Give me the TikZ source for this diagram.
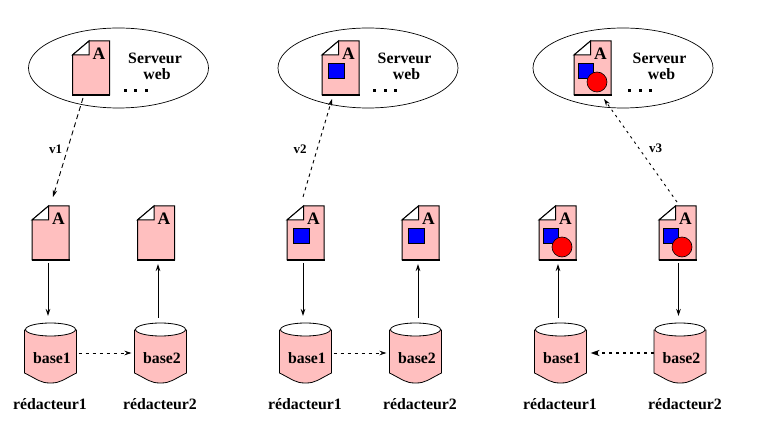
\documentclass[tikz,border=0pt]{standalone}
\usepackage{fontspec}
\setmainfont{Liberation Serif}[BoldFont={Liberation Serif Bold}]
\usetikzlibrary{arrows.meta,calc,shapes.geometric}
\definecolor{docpink}{HTML}{FFBFBF}
\tikzset{
  x=1pt,y=-1pt,
  anchorbox/.style={inner sep=0pt,outer sep=0pt,minimum width=#1},
  docbox/.style={anchorbox=37pt,minimum height=54pt},
  cylbox/.style={anchorbox=52pt,minimum height=60pt},
  docedge/.style={draw=black,line width=1pt,fill=docpink,line join=miter},
  docletter/.style={inner sep=0pt,font=\bfseries\fontsize{17.5}{17.5}\selectfont},
  cyledge/.style={draw=black,line width=.8pt,fill=docpink},
  caption/.style={inner sep=0pt,font=\bfseries\fontsize{15.8}{16}\selectfont},
  version/.style={inner sep=0pt,font=\bfseries\fontsize{13}{13}\selectfont},
  srv/.style={draw=black,line width=.7pt,fill=white,ellipse,minimum width=180pt,minimum height=80pt,inner sep=0pt,outer sep=0pt},
  link/.style={line width=.9pt,-{Stealth[length=7pt,width=4.5pt]}},
  sq/.style={draw=black,line width=.6pt,fill=blue,minimum size=15.5pt,inner sep=0pt,outer sep=0pt},
  disc/.style={circle,draw=black,line width=.6pt,fill=red,minimum size=20pt,inner sep=0pt,outer sep=0pt},
  longdash/.style={dash pattern=on 5pt off 3.5pt},
  shortdash/.style={dash pattern=on 3.5pt off 3.5pt},
  dotdash/.style={dash pattern=on 2.5pt off 4pt}
}
% Page with a folded corner; #1 name, #2 left edge, #3 top edge
\newcommand{\docpage}[3]{%
  \node[docbox] (#1) at (#2+18.5,#3+27) {};
  \path[docedge] (#2,#3+14) -- (#2+16.5,#3) -- (#2+37,#3) -- (#2+37,#3+54) -- (#2,#3+54) -- cycle;
  \draw[line width=2pt] (#2-.5,#3+53.6) -- (#2+37.5,#3+53.6);
  \path[docedge,fill=white] (#2,#3+14) -- (#2+16.5,#3) -- (#2+16.5,#3+14) -- cycle;
  \node[docletter] (#1-A) at (#2+26.5,#3+12.5) {A};
}
% Blue square on a page
\newcommand{\squareon}[3]{\node[sq] (#1-sq) at (#2+14.5,#3+30) {};}
% Blue square and red disc on a page
\newcommand{\bothon}[3]{%
  \node[sq] (#1-sq) at (#2+12,#3+30) {};
  \node[disc] (#1-disc) at (#2+23,#3+41) {};
}
% Cylinder; #1 name, #2 left edge, #3 caption text
\newcommand{\dbase}[3]{%
  \node[cylbox] (#1) at (#2+26,353) {};
  \path[cyledge] (#2,330) -- (#2,373) .. controls (#2+14,380) and (#2+16,383) .. (#2+26,383)
     .. controls (#2+36,383) and (#2+38,380) .. (#2+52,373) -- (#2+52,330) -- cycle;
  \path[draw=black,line width=.8pt,fill=white] (#2+26,329.5) ellipse [x radius=25pt,y radius=6.5pt];
  \node[caption] (#1-label) at (#2+27.5,358) {#3};
}
% Server ellipse with its caption and dots; #1 name, #2 centre x
\newcommand{\webserver}[2]{%
  \node[srv] (#1) at (#2,68) {};
  \node[caption] (#1-line1) at (#2+36.5,58) {Serveur};
  \node[caption] (#1-line2) at (#2+38.5,74) {web};
  \node[inner sep=0pt] (#1-dots) at (#2+17,91) {\tikz[x=1pt,y=-1pt]{\foreach \k in {0,10.5,21}\fill (\k,0) rectangle +(3,3);}};
}
\begin{document}
\begin{tikzpicture}
\useasboundingbox (0,0) rectangle (777,422);
\fill[white] (0,0) rectangle (777,422);

% First stage
\webserver{srvA}{118.5}
\docpage{webA}{72.5}{41}
\docpage{pageAa}{32}{206}
\docpage{pageAb}{137.5}{206}
\dbase{baseAa}{24.5}{base1}
\dbase{baseAb}{134.5}{base2}
\node[caption] (redAa) at (50,404) {rédacteur1};
\node[caption] (redAb) at (160,404) {rédacteur2};
\node[version] (vA) at (55.5,149) {v1};
\draw[link,longdash] ($(webA.south west)+(10.5,3)$) -- ($(pageAa.north west)+(21,-9)$);
\draw[link] ($(pageAa.south west)+(16,3)$) -- ($(baseAa.north west)+(23.5,-7)$);
\draw[link] ($(baseAb.north west)+(23.5,-5)$) -- ($(pageAb.south west)+(20.5,4)$);
\draw[link,shortdash,line width=.7pt] ($(baseAa.east)+(2,0)$) -- ($(baseAb.west)+(-3,0)$);

% Second stage
\webserver{srvB}{368}
\docpage{webB}{322}{41}
\squareon{webB}{322}{41}
\docpage{pageBa}{287}{206}
\squareon{pageBa}{287}{206}
\docpage{pageBb}{402}{206}
\squareon{pageBb}{402}{206}
\dbase{baseBa}{279.5}{base1}
\dbase{baseBb}{389.5}{base2}
\node[caption] (redBa) at (305,404) {rédacteur1};
\node[caption] (redBb) at (420,404) {rédacteur2};
\node[version] (vB) at (300,149) {v2};
\draw[link,shortdash] ($(pageBa.north west)+(16,-9)$) -- ($(webB.south west)+(10,4)$);
\draw[link] ($(pageBa.south west)+(16,3)$) -- ($(baseBa.north west)+(23.5,-7)$);
\draw[link] ($(baseBb.north west)+(28.5,-5)$) -- ($(pageBb.south west)+(16,4)$);
\draw[link,shortdash,line width=.7pt] ($(baseBa.east)+(2,0)$) -- ($(baseBb.west)+(-3,0)$);

% Third stage
\webserver{srvC}{623}
\docpage{webC}{574}{41}
\bothon{webC}{574}{41}
\docpage{pageCa}{539}{206}
\bothon{pageCa}{539}{206}
\docpage{pageCb}{659}{206}
\bothon{pageCb}{659}{206}
\dbase{baseCa}{534.5}{base1}
\dbase{baseCb}{654}{base2}
\node[caption] (redCa) at (560,404) {rédacteur1};
\node[caption] (redCb) at (685,404) {rédacteur2};
\node[version] (vC) at (655.5,148) {v3};
\draw[link,dotdash] ($(pageCb.north west)+(18,-4)$) -- ($(webC.south west)+(30,4)$);
\draw[link] ($(baseCa.north west)+(23.5,-5)$) -- ($(pageCa.south west)+(19,4)$);
\draw[link] ($(pageCb.south west)+(19.5,3)$) -- ($(baseCb.north west)+(24.5,-7)$);
\draw[link,line width=1.5pt,shortdash,-{Stealth[length=9pt,width=6pt]}] (baseCb.west) -- ($(baseCa.east)+(4,0)$);
\end{tikzpicture}
\end{document}
